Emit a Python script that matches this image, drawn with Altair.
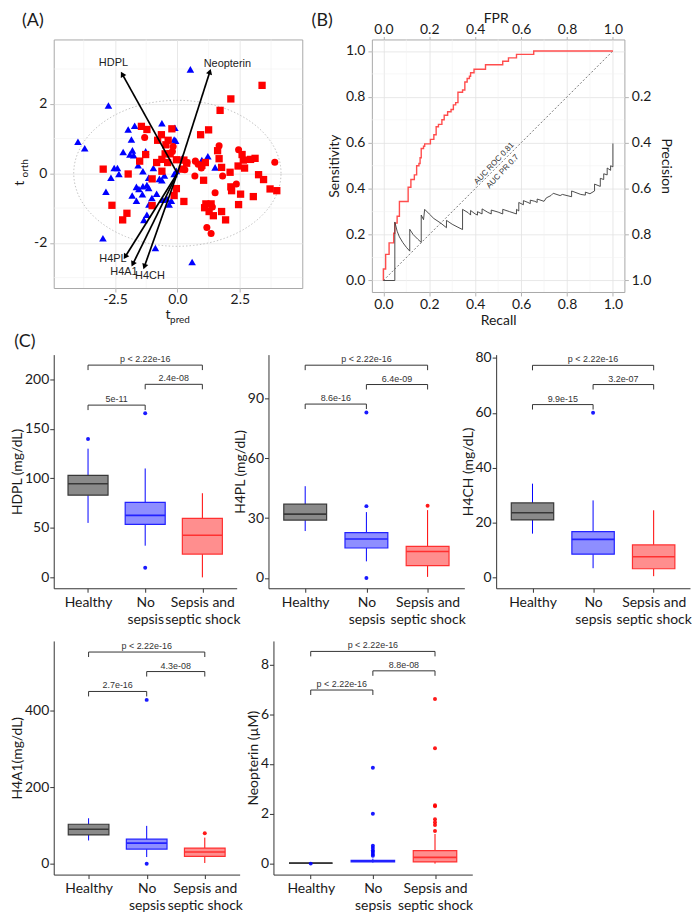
import altair as alt
import numpy as np
import pandas as pd

FONT = "Lato"
ANNOT_FONT = "Liberation Sans"
INK = "#1a1a1a"

# ================= Panel A : OPLS-DA scores / loadings =================
no_sepsis_x = [0.52, -2.76, -3.98, -3.71, -1.71, -1.97, -1.84, -0.62, -0.10, -0.07, -0.13, -1.80, -1.90, -1.75,
               -1.27, -1.57, -2.53, -2.40, -2.66, -2.34, -2.86, -1.38, -1.15, -0.96, -0.72, -0.62, 0.20, 0.98,
               1.22, 1.51, -1.64, -1.54, -1.38, -1.22, -1.15, -1.81, -1.64, -1.40, -1.02, -0.83, -1.14, -0.59,
               -0.42, -0.24, -0.33, -1.22, -1.34, -2.98, -0.88, 0.59, -0.13, -0.04, -0.52, -2.17]
no_sepsis_y = [2.99, 1.95, 0.91, 0.72, 1.37, 1.26, 0.97, 1.44, 1.31, 0.94, 0.97, 0.66, 0.54, 0.52,
               0.63, 0.23, 0.15, 0.15, -0.13, -0.02, -0.53, 0.06, -0.13, 0.15, -0.16, -0.20, 0.44, 0.38,
               0.49, 0.17, -0.39, -0.45, -0.37, -0.34, -0.42, -0.64, -0.79, -0.60, -0.71, -0.59, -0.90, -0.76,
               -0.73, -0.79, -0.90, -1.19, -1.34, -1.87, -2.15, -2.55, -0.02, 0.07, -0.06, 0.61]
sepsis_x = [3.39, 2.14, 1.71, -2.97, -2.62, -2.19, -2.02, -1.97, -1.44, -1.22, -1.51, -1.27, -1.01, -0.83,
            -0.79, -0.64, -0.62, -0.49, -0.39, -0.46, -0.37, -0.22, -0.29, -0.04, 0.20, 0.26, 0.37, -0.04,
            -0.13, 0.26, 0.93, 1.25, 0.98, 1.05, 1.14, 1.09, 1.27, 1.35, 1.44, 1.61, 1.67, 1.77, 1.77, 1.93,
            2.11, 2.14, 2.17, 2.43, 2.45, 2.53, 2.59, 2.64, 2.69, 2.93, 3.11, 3.04, 3.25, 3.45, 3.71, 3.98,
            -1.01, -0.62, 1.12]
sepsis_y = [2.53, 2.14, 1.81, 0.12, -0.92, -1.34, -1.15, -0.02, 1.35, 1.26, 0.35, 0.54, -0.93, 0.31,
            0.95, 1.11, 0.40, 0.56, 0.31, 0.82, 0.95, 1.28, 0.56, 0.39, 0.12, 0.38, 0.29, -0.44,
            -0.64, -0.81, 1.11, 1.25, 0.23, -0.20, -0.88, -0.99, -1.10, -0.88, -1.22, 0.65, 0.42, 0.17, -1.10, -1.34,
            0.03, -0.39, -0.50, 0.21, -0.90, -0.60, 0.54, 0.38, 0.15, 0.40, 0.43, -0.67, -0.04, -0.18, -0.45, -0.50,
            -0.16, 0.06, 0.31]
shock_x = [-1.31, -0.20, -0.17, 0.39, 0.70, 0.72, 0.83, 0.96, 1.51, 1.67, 1.81, 2.36, 2.45, 3.90, 1.18, 1.35, 1.40, 0.30]
shock_y = [1.03, 0.63, 0.77, 0.31, -0.08, 0.35, 0.26, 0.15, -0.56, 0.79, -0.08, -0.31, 0.68, 0.32, -1.56, -1.73, -0.97, 0.10]

arrow_names = ["HDPL", "Neopterin", "H4PL", "H4A1", "H4CH"]
arrow_x = [-2.19, 1.29, -2.07, -1.77, -1.31]
arrow_y = [2.83, 2.90, -2.38, -2.59, -2.66]
arrow_label_x = [-2.56, 2.00, -2.58, -2.14, -1.10]
arrow_label_y = [3.18, 3.15, -2.47, -2.84, -2.95]
ellipse_rx, ellipse_ry = 4.15, 2.10

# ================= Panel B : ROC + PR =================
roc_fpr = [0, 0, 0.01, 0.025, 0.045, 0.05, 0.06, 0.07, 0.108, 0.108, 0.12, 0.135, 0.145, 0.155, 0.16, 0.165,
           0.175, 0.18, 0.205, 0.22, 0.23, 0.24, 0.255, 0.265, 0.28, 0.295, 0.305, 0.315, 0.325, 0.345, 0.355,
           0.365, 0.375, 0.38, 0.395, 0.445, 0.52, 0.545, 0.58, 0.655, 1.0]
roc_tpr = [0, 0.05, 0.114, 0.164, 0.206, 0.25, 0.28, 0.344, 0.364, 0.406, 0.44, 0.46, 0.50, 0.51, 0.535, 0.575,
           0.585, 0.595, 0.615, 0.635, 0.67, 0.68, 0.70, 0.72, 0.735, 0.745, 0.765, 0.775, 0.82, 0.83, 0.865,
           0.88, 0.89, 0.905, 0.92, 0.94, 0.955, 0.97, 0.985, 1.0, 1.0]
pr_recall = [0.0, 0.05, 0.05, 0.06, 0.07, 0.085, 0.10, 0.115, 0.115, 0.13, 0.15, 0.165, 0.165, 0.175, 0.18,
             0.20, 0.22, 0.25, 0.275, 0.275, 0.30, 0.325, 0.345, 0.345, 0.37, 0.38, 0.38, 0.40, 0.41, 0.41,
             0.43, 0.43, 0.455, 0.47, 0.47, 0.50, 0.52, 0.52, 0.55, 0.58, 0.58, 0.59, 0.59, 0.61, 0.61, 0.63,
             0.64, 0.64, 0.66, 0.67, 0.67, 0.70, 0.71, 0.73, 0.74, 0.77, 0.78, 0.82, 0.82, 0.86, 0.88, 0.88,
             0.90, 0.92, 0.92, 0.945, 0.945, 0.96, 0.96, 0.975, 0.975, 0.99, 0.99, 1.0, 1.0]
pr_precision = [1.0, 1.0, 0.745, 0.785, 0.81, 0.835, 0.855, 0.872, 0.777, 0.80, 0.82, 0.834, 0.715, 0.735, 0.69,
                0.71, 0.73, 0.75, 0.77, 0.738, 0.755, 0.768, 0.778, 0.69, 0.705, 0.715, 0.695, 0.71, 0.715, 0.70,
                0.71, 0.688, 0.703, 0.71, 0.693, 0.702, 0.71, 0.69, 0.70, 0.71, 0.69, 0.697, 0.66, 0.67, 0.652, 0.66,
                0.665, 0.65, 0.655, 0.66, 0.645, 0.655, 0.64, 0.63, 0.62, 0.63, 0.625, 0.635, 0.61, 0.625, 0.628, 0.615,
                0.622, 0.61, 0.58, 0.59, 0.555, 0.56, 0.535, 0.54, 0.51, 0.52, 0.50, 0.505, 0.403]
diag_x = [0.0, 1.0]
diag_y = [0.0, 1.0]
auc_labels = ["AUC ROC 0.81", "AUC PR 0.7"]
auc_x = [0.483, 0.52]
auc_y = [0.509, 0.474]

# ================= Panel C : boxplots =================
CATS = ["Healthy", "No sepsis", "Sepsis and septic shock"]

hdpl = dict(lo=[55, 32, 0], q1=[83, 53.6, 23.5], med=[94.5, 62.6, 42.5], q3=[103, 75.7, 59.6], hi=[130, 110, 85])
hdpl_out_g = [1, 2, 2]
hdpl_out_v = [139.7, 165.8, 9.7]
hdpl_br_y = [174, 195, 214.4]
hdpl_br_lab = ["5e-11", "2.4e-08", "p < 2.22e-16"]

h4pl = dict(lo=[23.5, 8.3, 0.5], q1=[29, 15, 6.2], med=[32, 19.5, 13.2], q3=[37, 22.7, 15.8], hi=[46, 33, 34])
h4pl_out_g = [2, 2, 2, 3]
h4pl_out_v = [83, 36, 0, 36.2]
h4pl_br_y = [87.2, 97, 106.7]
h4pl_br_lab = ["8.6e-16", "6.4e-09", "p < 2.22e-16"]

h4ch = dict(lo=[16, 3.4, 0.5], q1=[21, 8.5, 3.2], med=[23.6, 13.9, 7.6], q3=[27.2, 16.7, 11.9], hi=[34.2, 28.1, 24.5])
h4ch_out_g = [2]
h4ch_out_v = [60]
h4ch_br_y = [63, 70.3, 77.3]
h4ch_br_lab = ["9.9e-15", "3.2e-07", "p < 2.22e-16"]

h4a1 = dict(lo=[60.6, 17.3, 1.7], q1=[75, 38, 19], med=[90, 53.7, 30.3], q3=[103, 64, 40.7], hi=[118.6, 98.7, 68])
h4a1_out_g = [2, 2, 3]
h4a1_out_v = [428, 0, 79.6]
h4a1_br_y = [450, 502, 553]
h4a1_br_lab = ["2.7e-16", "4.3e-08", "p < 2.22e-16"]

neop = dict(lo=[0.02, 0.04, 0.0], q1=[0.02, 0.07, 0.07], med=[0.02, 0.10, 0.25], q3=[0.02, 0.13, 0.52], hi=[0.02, 0.20, 1.19])
neop_out_g = [1, 2, 2, 2, 2, 2, 2, 2, 2, 3, 3, 3, 3, 3, 3, 3, 3]
neop_out_v = [0.0, 3.85, 2.0, 0.72, 0.63, 0.53, 0.47, 0.39, 0.32, 6.61, 4.63, 2.34, 2.30, 1.78, 1.66, 1.55, 1.31]
neop_br_y = [6.97, 7.74, 8.52]
neop_br_lab = ["p < 2.22e-16", "8.8e-08", "p < 2.22e-16"]

br_g1 = [1, 2, 1]
br_g2 = [2, 3, 3]

# ---------------------------------------------------------------------
ONE = pd.DataFrame({"t": ["."]})


def text_at(txt, x, y, size, font=FONT, angle=0, color=INK, align="center", baseline="middle"):
    return alt.Chart(pd.DataFrame({"t": [txt]})).mark_text(
        font=font, fontSize=size, angle=angle, color=color, align=align, baseline=baseline
    ).encode(x=alt.value(x), y=alt.value(y), text="t:N")


def spacer(y):
    """invisible horizontal tick that fixes a panel's layout extent"""
    return alt.Chart(ONE).mark_rule(strokeOpacity=0, strokeWidth=1).encode(
        x=alt.value(0), x2=alt.value(2), y=alt.value(y))


MINUS_FIX = "replace(format(datum.value, '{f}'), '\u2212', '-')"

# ---------------- Panel A ----------------
WA, HA = 250, 250
xdomA = [-4.95, 5.0]
ydomA = [-3.3, 3.85]
xsA = alt.Scale(domain=xdomA, nice=False, zero=False)
ysA = alt.Scale(domain=ydomA, nice=False, zero=False)
GRID = "#e2e2e2"
MINOR = "#f1f1f1"
FRAME = "#a8a8a8"

axA_x = alt.Axis(values=[-2.5, 0, 2.5], labelExpr=MINUS_FIX.format(f=".1f"), title=None, grid=True, gridColor=GRID,
                 gridWidth=0.8, domain=False, tickColor="#b3b3b3", tickSize=4, labelPadding=1)
axA_y = alt.Axis(values=[-2, 0, 2], labelExpr=MINUS_FIX.format(f="d"), title=None, grid=True, gridColor=GRID,
                 gridWidth=0.8, domain=False, tickColor="#b3b3b3", tickSize=4, labelPadding=3)


def XA(f):
    return alt.X(f, scale=xsA, axis=axA_x)


def YA(f):
    return alt.Y(f, scale=ysA, axis=axA_y)


gridA_v = alt.Chart(pd.DataFrame({"gx": [-3.75, -1.25, 1.25, 3.75]})).mark_rule(color=MINOR, strokeWidth=0.6).encode(
    x=XA("gx:Q"))
gridA_h = alt.Chart(pd.DataFrame({"gy": [-3, -1, 1, 3]})).mark_rule(color=MINOR, strokeWidth=0.6).encode(
    y=YA("gy:Q"))

t = np.linspace(0, 2 * np.pi, 121)
ell = pd.DataFrame({"ex": ellipse_rx * np.cos(t), "ey": ellipse_ry * np.sin(t), "i": np.arange(len(t))})
ellipse = alt.Chart(ell).mark_line(color="#b5b5b5", strokeWidth=0.8, strokeDash=[1.5, 2]).encode(
    x=XA("ex:Q"), y=YA("ey:Q"), order="i:Q")

grpA = ["No sepsis", "Sepsis", "Septic shock"]
ptsA = pd.concat([
    pd.DataFrame({"x": no_sepsis_x, "y": no_sepsis_y, "grp": grpA[0]}),
    pd.DataFrame({"x": sepsis_x, "y": sepsis_y, "grp": grpA[1]}),
    pd.DataFrame({"x": shock_x, "y": shock_y, "grp": grpA[2]}),
], ignore_index=True)

pointsA = alt.Chart(ptsA).mark_point(filled=True, opacity=1).encode(
    x=XA("x:Q"), y=YA("y:Q"),
    shape=alt.Shape("grp:N", scale=alt.Scale(domain=grpA, range=["triangle-up", "square", "circle"]), legend=None),
    color=alt.Color("grp:N", scale=alt.Scale(domain=grpA, range=["#0000ff", "#ff0000", "#ff0000"]), legend=None),
    size=alt.Size("grp:N", scale=alt.Scale(domain=grpA, range=[58, 50, 36]), legend=None),
)

px_x = WA / (xdomA[1] - xdomA[0])
px_y = HA / (ydomA[1] - ydomA[0])
arrA = pd.DataFrame({"name": arrow_names, "x": arrow_x, "y": arrow_y, "lx": arrow_label_x, "ly": arrow_label_y})
arrA["ang"] = (np.degrees(np.arctan2(arrA["x"] * px_x, arrA["y"] * px_y)) + 360) % 360
arrows = alt.Chart(arrA).transform_calculate(x0="0", y0="0").mark_rule(color="black", strokeWidth=1.7).encode(
    x=XA("x0:Q"), y=YA("y0:Q"), x2="x:Q", y2="y:Q")
heads = alt.Chart(arrA).mark_point(shape="triangle", filled=True, color="black", size=40, opacity=1).encode(
    x=XA("x:Q"), y=YA("y:Q"), angle=alt.Angle("ang:Q", scale=None))
labelsA = alt.Chart(arrA).mark_text(font=ANNOT_FONT, fontSize=11, color="#222222").encode(
    x=XA("lx:Q"), y=YA("ly:Q"), text="name:N")

y0A = HA * ydomA[1] / (ydomA[1] - ydomA[0])  # pixel row of t_orth = 0
panelA = alt.layer(
    gridA_v, gridA_h, ellipse, pointsA, arrows, heads, labelsA,
    text_at("t", -34, y0A + 10, 14, angle=270),
    text_at("orth", -29, y0A - 5, 10, angle=270),
    text_at("t", 115, HA + 27, 14),
    text_at("pred", 127, HA + 32, 10),
    text_at("(A)", -21, -19, 18),
).properties(width=WA, height=HA, view=alt.ViewBackground(stroke=FRAME, strokeWidth=1))

# ---------------- Panel B ----------------
WB, HB = 254, 254
sB = alt.Scale(domain=[-0.05, 1.05], nice=False, zero=False)
sBrev = alt.Scale(domain=[-0.05, 1.05], nice=False, zero=False, reverse=True)
major = [0, 0.2, 0.4, 0.6, 0.8, 1.0]
minor = [0.1, 0.3, 0.5, 0.7, 0.9]

axB_top = alt.Axis(orient="top", title=None, values=major, format=".1f", grid=True, gridColor=GRID, gridWidth=0.8,
                   domain=False, tickColor="#b3b3b3", tickSize=3, labelPadding=0)
axB_left = alt.Axis(orient="left", title="Sensitivity", values=major, format=".1f", grid=True, gridColor=GRID,
                    gridWidth=0.8, domain=False, tickColor="#b3b3b3", tickSize=4, labelPadding=3, titlePadding=4)


def XB(f):
    return alt.X(f, scale=sB, axis=axB_top)


def YB(f):
    return alt.Y(f, scale=sB, axis=axB_left)


gridB_v = alt.Chart(pd.DataFrame({"fpr": minor})).mark_rule(color=MINOR, strokeWidth=0.6).encode(x=XB("fpr:Q"))
gridB_h = alt.Chart(pd.DataFrame({"tpr": minor})).mark_rule(color=MINOR, strokeWidth=0.6).encode(y=YB("tpr:Q"))
roc_df = pd.DataFrame({"fpr": roc_fpr, "tpr": roc_tpr, "i": np.arange(len(roc_fpr))})
roc_line = alt.Chart(roc_df).mark_line(interpolate="step-after", color="#ff4d4d", strokeWidth=1.4).encode(
    x=XB("fpr:Q"), y=YB("tpr:Q"), order="i:Q")
diag = alt.Chart(pd.DataFrame({"fpr": diag_x, "tpr": diag_y})).mark_line(
    color="#555555", strokeWidth=0.8, strokeDash=[2, 2]).encode(x=XB("fpr:Q"), y=YB("tpr:Q"))
auc = alt.Chart(pd.DataFrame({"fpr": auc_x, "tpr": auc_y, "lab": auc_labels})).mark_text(
    font=ANNOT_FONT, fontSize=8, color="#333333", angle=313).encode(x=XB("fpr:Q"), y=YB("tpr:Q"), text="lab:N")
roc_group = alt.layer(gridB_v, gridB_h, diag, roc_line, auc,
                      text_at("FPR", WB / 2 - 2, -21, 14),
                      text_at("(B)", -50, -19, 18),
                      spacer(-28), spacer(HB + 39))

pr_df = pd.DataFrame({"recall": pr_recall, "precision": pr_precision, "i": np.arange(len(pr_recall))})
pr_line = alt.Chart(pr_df).mark_line(color="#3a3a3a", strokeWidth=0.9).encode(
    x=alt.X("recall:Q", scale=sB, axis=alt.Axis(orient="bottom", title="Recall", values=major, format=".1f",
                                                grid=False, domain=False, tickColor="#b3b3b3", tickSize=4,
                                                labelPadding=2, titlePadding=2)),
    y=alt.Y("precision:Q", scale=sBrev, axis=alt.Axis(orient="right", title="Precision",
                                                      values=[0.2, 0.4, 0.6, 0.8, 1.0], format=".1f", grid=False,
                                                      domain=False, tickColor="#b3b3b3", tickSize=4,
                                                      labelPadding=3, titlePadding=8)),
    order="i:Q")

panelB = alt.layer(roc_group, pr_line).resolve_scale(x="independent", y="independent").properties(
    width=WB, height=HB, view=alt.ViewBackground(stroke=FRAME, strokeWidth=1))

# ---------------- Panel C ----------------
BOX_FILL = ["#8a8a8a", "#8e8eff", "#ff8e8e"]
BOX_LINE = ["#383838", "#2222ff", "#ff3030"]
WHISKER = ["#6e6e6e", "#8080ff", "#ff7070"]
X_LABELS = "datum.value == 1 ? 'Healthy' : datum.value == 2 ? ['No', 'sepsis'] : ['Sepsis and', 'septic shock']"
AX = "#333333"


def box_panel(ytitle, ydom, yticks, st, out_g, out_v, br_y, br_lab, width, height, extra=()):
    xs = alt.Scale(domain=[0.4, 3.6], nice=False, zero=False)
    ys = alt.Scale(domain=ydom, nice=False, zero=False)
    xaxis = alt.Axis(values=[1, 2, 3], labelExpr=X_LABELS, title=None, grid=False, domainColor=AX, tickColor=AX,
                     tickSize=4, labelPadding=3, labelOverlap=False, labelFlush=False, labelLineHeight=17,
                     labelBaseline="top")
    yaxis = alt.Axis(values=yticks, title=ytitle, grid=False, domainColor=AX, tickColor=AX, tickSize=4,
                     labelPadding=1, titlePadding=0, labelOverlap=False, labelFlush=False)

    def X(f):
        return alt.X(f, scale=xs, axis=xaxis)

    def Y(f):
        return alt.Y(f, scale=ys, axis=yaxis)

    df = pd.DataFrame({"g": [1, 2, 3], "cat": CATS, **st})
    out = pd.DataFrame({"g": out_g, "v": out_v, "cat": [CATS[g - 1] for g in out_g]})
    tip = 5.0 * (ydom[1] - ydom[0]) / height
    br = pd.DataFrame({"g1": br_g1, "g2": br_g2, "y": br_y, "lab": br_lab})
    col_w = alt.Color("cat:N", scale=alt.Scale(domain=CATS, range=WHISKER), legend=None)
    fill = alt.Fill("cat:N", scale=alt.Scale(domain=CATS, range=BOX_FILL), legend=None)
    stroke = alt.Stroke("cat:N", scale=alt.Scale(domain=CATS, range=BOX_LINE), legend=None)
    base = alt.Chart(df)
    wide = base.transform_calculate(xl="datum.g - 0.35", xr="datum.g + 0.35")
    w_lo = base.mark_rule(strokeWidth=1).encode(x=X("g:Q"), y=Y("lo:Q"), y2="q1:Q", color=col_w)
    w_hi = base.mark_rule(strokeWidth=1).encode(x=X("g:Q"), y=Y("q3:Q"), y2="hi:Q", color=col_w)
    box = wide.mark_rect(strokeWidth=1.2).encode(x=X("xl:Q"), x2="xr:Q", y=Y("q1:Q"), y2="q3:Q",
                                                 fill=fill, stroke=stroke)
    medl = wide.mark_rule(strokeWidth=1.6).encode(x=X("xl:Q"), x2="xr:Q", y=Y("med:Q"), stroke=stroke)
    outl = alt.Chart(out).mark_circle(size=16, opacity=0.9).encode(x=X("g:Q"), y=Y("v:Q"), color=col_w)
    brb = alt.Chart(br).transform_calculate(yt=f"datum.y - {tip}", gm="(datum.g1 + datum.g2) / 2")
    b_h = brb.mark_rule(color=AX, strokeWidth=1).encode(x=X("g1:Q"), x2="g2:Q", y=Y("y:Q"))
    b_l = brb.mark_rule(color=AX, strokeWidth=1).encode(x=X("g1:Q"), y=Y("y:Q"), y2="yt:Q")
    b_r = brb.mark_rule(color=AX, strokeWidth=1).encode(x=X("g2:Q"), y=Y("y:Q"), y2="yt:Q")
    b_t = brb.mark_text(font=ANNOT_FONT, fontSize=9, color="#333333", baseline="bottom", dy=-1).encode(
        x=X("gm:Q"), y=Y("y:Q"), text="lab:N")
    return alt.layer(w_lo, w_hi, box, medl, outl, b_h, b_l, b_r, b_t, *extra).properties(width=width, height=height)


HC = 235
p1 = box_panel("HDPL (mg/dL)", [-11, 225], [0, 50, 100, 150, 200], hdpl, hdpl_out_g, hdpl_out_v,
               hdpl_br_y, hdpl_br_lab, 184, HC,
               extra=(text_at("(C)", -29, -13, 18), spacer(-23), spacer(HC + 43)))
p2 = box_panel("H4PL (mg/dL)", [-5.2, 112], [0, 30, 60, 90], h4pl, h4pl_out_g, h4pl_out_v,
               h4pl_br_y, h4pl_br_lab, 197, HC)
p3 = box_panel("H4CH (mg/dL)", [-3.9, 81.2], [0, 20, 40, 60, 80], h4ch, h4ch_out_g, h4ch_out_v,
               h4ch_br_y, h4ch_br_lab, 195, HC)
p4 = box_panel("H4A1(mg/dL)", [-28.6, 582], [0, 200, 400], h4a1, h4a1_out_g, h4a1_out_v,
               h4a1_br_y, h4a1_br_lab, 187, HC, extra=(spacer(-6),))
p5 = box_panel("Neopterin (\u00b5M)", [-0.44, 8.94], [0, 2, 4, 6, 8], neop, neop_out_g, neop_out_v,
               neop_br_y, neop_br_lab, 200, HC)

row1 = alt.hconcat(panelA, panelB, spacing=70, bounds="flush")
row2 = alt.hconcat(p1, p2, p3, spacing=32, bounds="flush")
row3 = alt.hconcat(p4, p5, spacing=34, bounds="flush")

chart = alt.vconcat(row1, alt.vconcat(row2, row3, spacing=4), spacing=0).properties(
    padding={"left": 2, "top": 0, "right": 0, "bottom": 0}
).configure_view(strokeWidth=0).configure_axis(
    labelFont=FONT, titleFont=FONT, labelFontSize=14, titleFontSize=14, labelColor=INK, titleColor=INK,
    titleFontWeight="normal"
)

chart.save("out.html", embed_options={"renderer": "svg", "actions": False})
